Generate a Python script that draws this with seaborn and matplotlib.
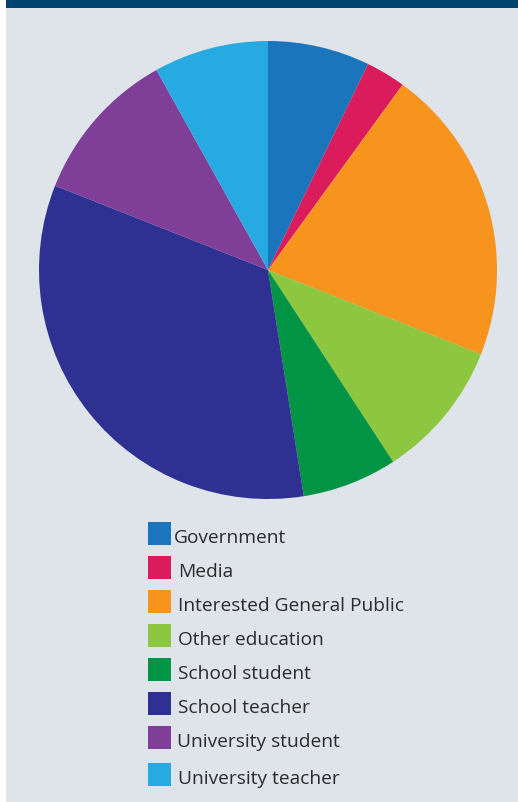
import matplotlib
matplotlib.use("Agg")
import matplotlib.pyplot as plt
from matplotlib.patches import Rectangle
import seaborn as sns

# Audience breakdown (percent), listed clockwise from 12 o'clock
categories = ["Government", "Media", "Interested General Public", "Other education",
              "School student", "School teacher", "University student", "University teacher"]
shares = [7.2, 2.8, 21.0, 9.8, 6.7, 33.5, 10.9, 8.1]
colors = ["#1b75bc", "#da1c5c", "#f7941d", "#8dc63f",
          "#009444", "#2e3192", "#7f3f98", "#27aae1"]

sns.set_theme(style="white")
plt.rcParams["font.family"] = ["Open Sans", "DejaVu Sans"]

W, H = 518, 802
fig = plt.figure(figsize=(W / 100, H / 100), dpi=100)
fig.patch.set_facecolor("white")

def px_rect(x0, y0, x1, y1, color, z=0):
    fig.patches.append(Rectangle((x0 / W, 1 - y1 / H), (x1 - x0) / W, (y1 - y0) / H,
                                 transform=fig.transFigure, facecolor=color,
                                 edgecolor="none", zorder=z))

# panel background and header band
px_rect(6, 0, W, H, "#dfe3ea", z=-2)
px_rect(6, 0, W, 8, "#00426e", z=-1)

# pie
cx, cy, r = 268, 270, 229
ax = fig.add_axes([(cx - r) / W, 1 - (cy + r) / H, 2 * r / W, 2 * r / H])
ax.set_zorder(5)
ax.set_facecolor("none")
palette = sns.color_palette(colors)
ax.pie(shares, colors=palette, startangle=90, counterclock=False, radius=1,
       wedgeprops=dict(linewidth=0, antialiased=True))
ax.set_xlim(-1, 1)
ax.set_ylim(-1, 1)
ax.set_aspect("equal")
ax.axis("off")

# legend
row_y = [533.5, 567.5, 601.5, 635.5, 669.5, 703.5, 737.5, 774.5]
text_x = [174, 178, 178, 178, 178, 178, 177, 178]
for name, col, yc, tx in zip(categories, colors, row_y, text_x):
    px_rect(148, yc - 11.5, 171, yc + 11.5, col, z=2)
    fig.text(tx / W, 1 - (yc + 9.5) / H, name, fontsize=13.8, color="#2b2b2b",
             ha="left", va="baseline", zorder=3)

fig.savefig("out.png", dpi=100, facecolor=fig.get_facecolor())
